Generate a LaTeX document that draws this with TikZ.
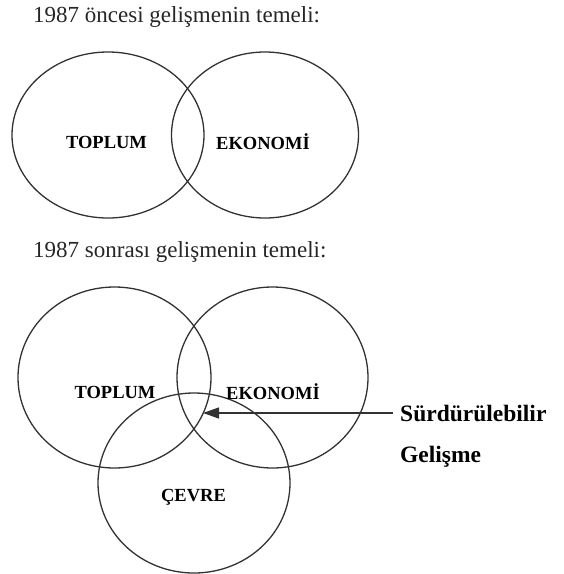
\documentclass[tikz,border=0pt]{standalone}
\usepackage{fontspec}
\setmainfont{Liberation Serif}
\usepackage{tikz}
\usetikzlibrary{shapes.geometric, arrows.meta, positioning}
\definecolor{linecolor}{RGB}{50, 50, 50}

\begin{document}
\begin{tikzpicture}[
    x=1pt, y=-1pt,
    setcircle/.style={ellipse, draw=linecolor, line width=1.3pt, inner sep=0pt},
    titletext/.style={anchor=west, inner sep=0pt, font=\fontsize{23}{27}\selectfont, text=black!85},
    setlabel/.style={inner sep=0pt, font=\fontsize{18.5}{22}\selectfont\bfseries},
    notetext/.style={anchor=west, inner sep=0pt, font=\fontsize{23.5}{28}\selectfont\bfseries}
]
\useasboundingbox (0,0) rectangle (564,574);

% before 1987
\node[titletext] (title1) at (33,17) {1987 öncesi gelişmenin temeli:};
\node[setcircle, minimum width=192pt, minimum height=166pt] (toplum1) at (108,135) {};
\node[setcircle, minimum width=187pt, minimum height=166pt] (ekonomi1) at (265,135) {};
\node[setlabel] (ltoplum1) at (106.5,142) {TOPLUM};
\node[setlabel] (lekonomi1) at (263,142) {EKONOMİ};

% after 1987
\node[titletext] (title2) at (33,252) {1987 sonrası gelişmenin temeli:};
\node[setcircle, minimum width=193pt, minimum height=181pt] (toplum2) at (114.5,377.5) {};
\node[setcircle, minimum width=191pt, minimum height=181pt] (ekonomi2) at (272.5,377.5) {};
\node[setcircle, minimum width=192pt, minimum height=180pt] (cevre) at (194,483) {};
\node[setlabel] (ltoplum2) at (115,392) {TOPLUM};
\node[setlabel] (lekonomi2) at (273,392) {EKONOMİ};
\node[setlabel] (lcevre) at (193.5,497) {ÇEVRE};

\node[notetext] (surd) at (400,413) {Sürdürülebilir};
\node[notetext] (gelis) at (400,457) {Gelişme};
\coordinate (tip) at (203,413);

\draw[-{Triangle[length=16pt, width=11pt]}, draw=linecolor, line width=1.3pt] ([xshift=-7pt]surd.west) -- (tip);

\end{tikzpicture}
\end{document}
